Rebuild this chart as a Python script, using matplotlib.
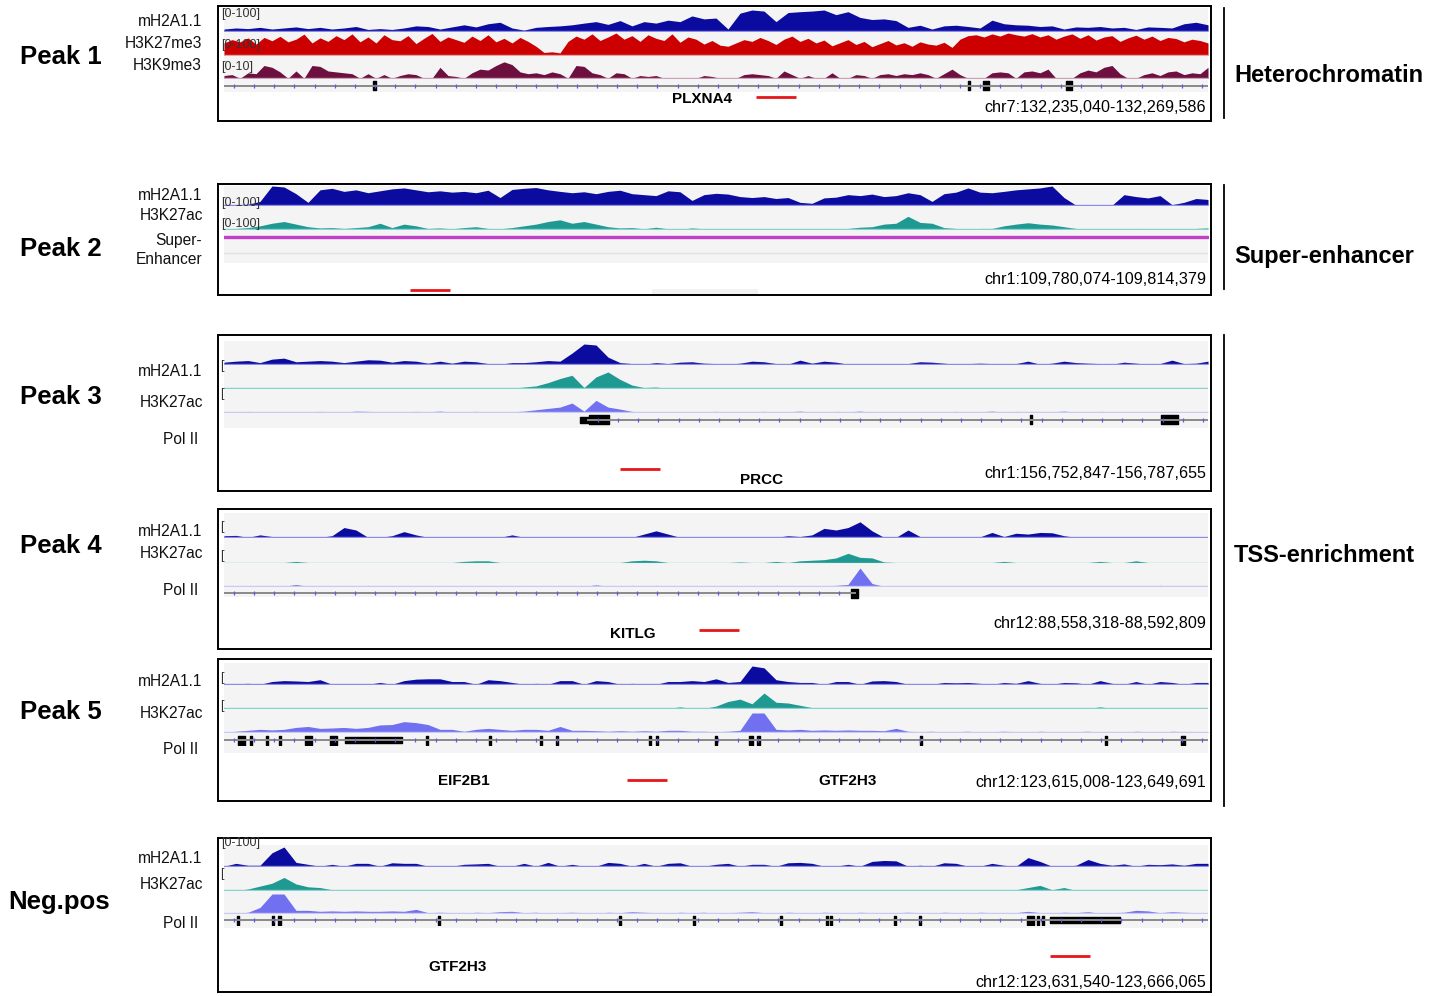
import numpy as np
import matplotlib
matplotlib.use('Agg')
import matplotlib.pyplot as plt
from matplotlib.lines import Line2D

plt.rcParams['font.family'] = ['Liberation Sans', 'DejaVu Sans']

# ---- signal values per bin (0-100 of track height)
P1_MH2A = [10,15,12,18,10,15,20,12,18,10,15,22,8,12,8,15,25,22,10,20,30,20,35,42,15,5,18,22,25,30,
           38,45,32,50,25,45,38,52,45,72,58,62,10,85,100,95,45,88,92,95,100,78,92,65,55,58,50,18,28,10,
           25,28,22,15,52,35,30,28,22,25,10,20,18,22,15,18,8,20,18,15,35,42,30]
P1_K27ME3 = [55,70,60,78,50,80, 65,85,60,72,95,55,78,62,88,70,96,60,82,55,92,70,65,88,52,76,98,62,82,70,
             58,86,66,92,60,76,55,80,62,40, 12,15,10, 62,86,72,96,66,82,100,72,88,62,92,76,66,96,58,82,72,
             50,66,45,40,55,70, 62,80,66,48,72,86,62,76,55,68, 42,56,70,48,62,38,52,66,46,56,40,60,50,45,58,35,
             72,88,92,82,96,86,100,92,86,97,82,92,72,86,96,76,92,68,82,88,62,78, 90,72,86,66,80,75,60,72,66,55]
P1_K9ME3 = [15,20,0,30,25,70,60,35,0,40,0,70,65,40,35,30,25,0,25,0,20,0,15,25,20,0,0,60,15,10,
            0,30,50,45,70,90,75,35,25,30,20,35,25,0,70,65,30,20,0,30,25,0,15,10,15,0,0,0,0,0,
            15,10,0,0,0,20,25,20,15,0,40,20,0,15,0,0,30,0,0,20,15,0,20,25,15,25,20,30,20,0,
            25,50,20,0,0,0,30,35,30,0,35,40,30,50,0,0,0,30,45,35,60,70,25,0,0,20,30,15,35,40,
            20,30,25,60]

P2_MH2A = [3,3,5,20,100,95,60,15,80,88,72,80,65,75,85,90,80,70,75,68,72,65,78,40,82,88,92,80,72,65,
           70,60,72,78,60,55,50,75,70,25,55,62,58,45,40,45,35,40,15,10,38,42,55,50,58,45,50,65,55,20,
           60,68,90,68,65,72,80,85,90,100,40,0,0,0,0,55,45,38,50,3,15,35,30]
P2_K27AC = [0,5,10,20,35,45,30,15,8,10,5,10,15,35,10,30,20,5,8,3,10,15,5,3,10,20,30,45,55,35,
            45,30,15,8,10,3,12,3,0,8,3,0,0,3,0,3,0,3,0,3,5,3,5,12,15,30,35,75,40,35,
            10,5,0,5,5,20,30,38,30,25,15,5,3,0,3,0,5,3,0,3,0,5,8]
P2_SE = [(0.0, 1.0)]

P3_MH2A = [10,15,18,8,25,30,12,15,18,15,8,15,22,20,10,18,15,5,15,5,15,12,3,0,8,8,12,18,15,55,
           100,95,35,8,3,0,8,3,10,12,5,3,0,5,15,12,3,0,20,5,15,10,0,0,0,0,0,3,12,10,
           5,0,3,5,3,0,3,15,0,5,15,8,5,3,0,10,5,0,3,20,3,5,15]
P3_K27AC = [0,0,3,0,0,0,0,0,0,5,0,0,0,0,0,0,0,0,3,0,0,0,0,0,0,8,15,35,60,80,
            5,70,100,55,20,5,8,0,0,0,0,0,0,0,5,0,0,0,5,0,0,0,5,0,0,0,0,0,0,0,
            0,0,0,0,0,0,0,0,0,0,0,0,0,5,0,0,0,0,0,0,0,0,0]
P3_POL2 = [5,3,8,3,5,3,0,5,8,5,3,10,8,5,3,5,8,5,10,3,5,8,3,0,5,10,20,30,40,70,
           10,90,40,25,8,3,0,5,3,0,5,8,3,0,5,8,3,5,10,3,0,8,5,10,3,5,0,3,5,3,
           0,8,3,5,10,3,8,5,0,5,10,3,0,8,5,3,5,3,0,5,3,0,3]

P4_MH2A = [10,12,0,15,5,0,0,0,0,10,60,45,0,0,10,35,15,0,0,0,0,0,0,0,15,0,0,0,0,0,
           0,0,0,0,0,20,40,20,0,0,0,0,0,0,0,0,0,10,5,15,55,45,60,95,40,0,0,45,5,0,
           0,0,0,3,30,5,25,20,30,28,10,0,0,0,0,0,0,0,0,0,0,0,0]
P4_K27AC = [0,0,0,0,0,0,10,0,0,0,0,0,0,0,0,0,0,0,0,0,10,15,15,0,0,0,0,0,0,0,
            0,0,0,0,15,20,15,0,0,0,0,0,0,5,0,0,10,0,15,20,25,40,80,45,40,5,0,0,0,0,
            0,0,0,0,0,10,0,0,0,0,0,0,0,10,0,0,15,0,0,0,0,0,0]
P4_POL2 = [0,0,0,0,0,0,10,0,0,0,0,0,5,0,0,0,0,0,0,0,0,0,0,0,0,0,3,0,0,0,
           0,8,0,0,5,0,5,0,0,0,0,0,0,0,0,0,5,0,0,0,3,5,10,100,15,0,0,0,0,0,
           0,3,0,3,0,0,0,0,0,0,0,0,0,0,0,0,0,0,5,0,0,0,0]

P5_MH2A = [0,3,5,0,15,20,18,15,25,0,0,0,0,10,0,20,28,30,30,15,15,0,25,20,10,0,5,0,20,20,
           0,20,15,0,5,0,0,15,15,20,15,30,10,15,100,90,25,15,10,10,0,15,15,0,18,20,15,0,0,0,
           10,8,10,5,0,10,5,20,5,0,10,8,0,20,5,0,15,0,15,10,0,10,10]
P5_K27AC = [0,0,0,0,0,0,5,0,0,0,0,0,0,0,0,0,0,0,0,0,0,0,0,0,0,0,0,0,5,0,
            0,0,0,0,0,0,0,0,10,0,0,15,45,60,30,100,40,35,20,5,0,0,0,0,0,0,0,0,0,0,
            0,0,0,0,0,0,0,0,0,0,0,0,0,10,0,0,0,0,0,0,0,0,0]
P5_POL2 = [0,5,10,15,12,15,25,30,20,22,25,20,25,38,40,55,50,40,15,15,5,15,20,15,10,15,15,10,30,10,
           10,8,5,8,5,8,5,10,10,5,5,3,5,10,100,100,15,12,15,10,12,10,12,10,10,8,20,5,3,5,
           0,3,5,0,3,5,3,0,5,3,0,3,5,0,3,0,5,3,0,5,3,0,3]

NEG_MH2A = [0,15,5,5,70,100,20,10,0,10,0,15,15,0,18,15,15,0,0,0,10,12,15,0,0,15,0,20,0,10,
            0,0,20,15,0,15,0,15,18,0,0,10,15,0,10,10,0,18,20,15,0,0,10,0,25,30,28,0,5,0,
            18,15,0,0,15,5,0,45,25,0,0,5,35,15,5,12,0,10,8,12,5,15,15]
NEG_K27AC = [0,0,10,30,50,90,45,25,20,5,0,0,0,0,0,0,0,0,0,0,0,0,0,0,0,0,0,0,0,0,
             0,5,0,0,0,0,0,0,0,0,0,0,0,0,0,0,0,0,0,0,0,0,0,0,0,0,0,0,0,0,
             0,0,0,0,0,0,5,20,35,5,20,0,0,0,0,0,0,0,0,0,0,0,0]
NEG_POL2 = [3,0,5,30,100,100,15,15,10,12,10,12,10,10,12,10,20,3,5,3,0,5,3,8,10,3,5,0,3,5,
            3,0,5,3,8,5,3,0,5,3,5,0,3,5,8,3,0,5,3,0,5,3,0,5,3,0,3,5,3,0,
            5,3,0,5,3,0,3,10,3,0,5,3,8,0,3,5,15,12,3,8,5,3,0]

# ---- gene models (fraction of the window): transcript span, exons, UTR pieces
P1_GENE = (0.0, 1.0)
P1_EXONS = [(0.1514, 0.1545), (0.7561, 0.7581), (0.7713, 0.7774), (0.8557, 0.8618)]
P3_GENE = (0.3699, 1.0)
P3_EXONS = [(0.3709, 0.3913), (0.8191, 0.8211), (0.9522, 0.9695)]
P3_UTR = [(0.3618, 0.3709)]
P4_GENE = (0.0, 0.6413)
P4_EXONS = [(0.6372, 0.6443)]
P5_GENE = (0.0, 1.0)
P5_EXONS = [(0.0142, 0.0213), (0.0264, 0.0285), (0.0427, 0.0447), (0.0559, 0.0579), (0.0823, 0.0894),
            (0.1077, 0.1148), (0.2053, 0.2073), (0.2693, 0.2713), (0.3211, 0.3232), (0.3374, 0.3394),
            (0.4319, 0.4339), (0.4390, 0.4411), (0.4990, 0.5010), (0.5335, 0.5376), (0.5417, 0.5447),
            (0.7073, 0.7093), (0.8953, 0.8974), (0.9726, 0.9766)]
P5_UTR = [(0.1230, 0.1809)]
NEG_GENE = (0.0, 1.0)
NEG_EXONS = [(0.0132, 0.0152), (0.0488, 0.0508), (0.0549, 0.0579), (0.2175, 0.2195), (0.4014, 0.4034),
             (0.4766, 0.4786), (0.5651, 0.5671), (0.6118, 0.6138), (0.6159, 0.6179), (0.6809, 0.6829),
             (0.7063, 0.7083), (0.8161, 0.8232), (0.8262, 0.8282), (0.8313, 0.8333)]
NEG_UTR = [(0.8394, 0.9106)]

# scale bar start (fraction of window), same length for all panels
SCALE_START = [0.5407, 0.1890, 0.4024, 0.4827, 0.4096, 0.8394]
SCALE_LEN = 0.0407

LOCI = ['chr7:132,235,040-132,269,586', 'chr1:109,780,074-109,814,379', 'chr1:156,752,847-156,787,655',
        'chr12:88,558,318-88,592,809', 'chr12:123,615,008-123,649,691', 'chr12:123,631,540-123,666,065']
PEAK_NAMES = ['Peak 1', 'Peak 2', 'Peak 3', 'Peak 4', 'Peak 5', 'Neg.pos']

COL = {'mh2a': ('#0b0ba0', '#8c8ce6'), 'k27me3': ('#cc0000', '#e8a0a0'), 'k9me3': ('#6d0f3f', '#c9a3b8'),
       'k27ac': ('#1f9a93', '#86d2ce'), 'pol2': ('#7070f0', '#c8c8f4')}

W, H = 1430, 996
X0, X1 = 224, 1208
fig = plt.figure(figsize=(W / 100, H / 100), dpi=100)


def rect(x0, y0, x1, y1):
    return [x0 / W, 1 - y1 / H, (x1 - x0) / W, (y1 - y0) / H]


def ftext(x, y, s, **kw):
    kw.setdefault('va', 'center')
    fig.text(x / W, 1 - y / H, s, **kw)


def background(y0, y1):
    ax = fig.add_axes(rect(X0, y0, X1, y1))
    ax.set_facecolor('#f4f4f4')
    ax.set_xticks([])
    ax.set_yticks([])
    for s in ax.spines.values():
        s.set_visible(False)
    return ax


def track(vals, key, top, base):
    ax = fig.add_axes(rect(X0, top, X1, base + 1))
    ax.set_xlim(0, 1)
    ax.set_ylim(-4, 100)
    ax.axis('off')
    x = np.linspace(0, 1, len(vals))
    ax.axhline(0, color=COL[key][1], lw=1)
    ax.fill_between(x, 0, vals, color=COL[key][0], lw=0)


def gene(span, exons, gy, utr=(), line_col='#8a8a8a'):
    ax = fig.add_axes(rect(X0, gy - 6, X1, gy + 6))
    ax.set_xlim(0, 1)
    ax.set_ylim(-1, 1)
    ax.axis('off')
    ax.plot(span, [0, 0], color=line_col, lw=1.4)
    ticks = np.arange(span[0] + 0.01, span[1] - 0.005, 0.0205)
    ax.plot(ticks, np.zeros_like(ticks), ls='none', marker='|', ms=3, mew=0.9, color='#5b5be6')
    ax.broken_barh([(s, max(e - s, 0.002)) for s, e in exons], (-0.75, 1.5), color='black')
    ax.broken_barh([(s, e - s) for s, e in utr], (-0.55, 1.1), color='black')


def box(y0, y1, i, bar_y):
    ax = fig.add_axes(rect(218, y0, 1211, y1))
    ax.set_facecolor('none')
    ax.set_xlim((218 - X0) / (X1 - X0), (1211 - X0) / (X1 - X0))
    ax.set_ylim(y1, y0)
    ax.set_xticks([])
    ax.set_yticks([])
    for s in ax.spines.values():
        s.set_linewidth(1.4)
    ax.plot([SCALE_START[i], SCALE_START[i] + SCALE_LEN], [bar_y, bar_y], color='#e8161b', lw=2,
            solid_capstyle='butt')


# ---------------- Peak 1
background(8, 92)
track(P1_MH2A, 'mh2a', 10, 31)
track(P1_K27ME3, 'k27me3', 33, 55)
track(P1_K9ME3, 'k9me3', 60, 78)
gene(P1_GENE, P1_EXONS, 86)
box(6, 121, 0, 97)

# ---------------- Peak 2
bg2 = background(186, 263)
bg2.axhline(0.13, color='#e2e2e2', lw=1)
track(P2_MH2A, 'mh2a', 186, 205)
track(P2_K27AC, 'k27ac', 212, 229)
ax_se = fig.add_axes(rect(X0, 234, X1, 240))
ax_se.set_xlim(0, 1)
ax_se.set_ylim(-1, 1)
ax_se.axis('off')
ax_se.broken_barh([(s, e - s) for s, e in P2_SE], (-0.3, 0.6), color='#c040c8')
gray_patch = fig.add_axes(rect(652, 289, 758, 295))
gray_patch.axis('off')
gray_patch.add_patch(plt.Rectangle((0, 0), 1, 1, color='#f2f2f2'))
box(184, 295, 1, 290)

# ---------------- Peak 3
background(341, 428)
track(P3_MH2A, 'mh2a', 344, 364)
track(P3_K27AC, 'k27ac', 372, 388)
track(P3_POL2, 'pol2', 399, 412)
gene(P3_GENE, P3_EXONS, 420, P3_UTR)
box(335, 491, 2, 469)

# ---------------- Peak 4
background(513, 597)
track(P4_MH2A, 'mh2a', 521, 537)
track(P4_K27AC, 'k27ac', 551, 562)
track(P4_POL2, 'pol2', 568, 586)
gene(P4_GENE, P4_EXONS, 593)
box(509, 649, 3, 630)

# ---------------- Peak 5
background(663, 753)
track(P5_MH2A, 'mh2a', 666, 684)
track(P5_K27AC, 'k27ac', 693, 708)
track(P5_POL2, 'pol2', 713, 732)
gene(P5_GENE, P5_EXONS, 740, P5_UTR)
box(659, 801, 4, 780)

# ---------------- Neg.pos
background(845, 928)
track(NEG_MH2A, 'mh2a', 847, 866)
track(NEG_K27AC, 'k27ac', 876, 890)
track(NEG_POL2, 'pol2', 894, 913)
gene(NEG_GENE, NEG_EXONS, 920, NEG_UTR)
box(838, 992, 5, 956)

# ---------------- texts
peak_y = [57, 249, 397, 546, 712, 902]
for name, y in zip(PEAK_NAMES, peak_y):
    ftext(20 if name != 'Neg.pos' else 8, y, name, fontsize=18.5, fontweight='bold')

lab = dict(fontsize=11.2, ha='right', color='#111111')
ftext(202, 21, 'mH2A1.1', **lab)
ftext(202, 43, 'H3K27me3', **lab)
ftext(202, 66, 'H3K9me3', **lab)
ftext(202, 196, 'mH2A1.1', **lab)
ftext(203, 216, 'H3K27ac', **lab)
ftext(202, 241, 'Super-', **lab)
ftext(202, 260, 'Enhancer', **lab)
for ys in [(372, 402, 439), (531, 553, 590), (681, 713, 749), (858, 884, 923)]:
    ftext(202, ys[0], 'mH2A1.1', **lab)
    ftext(203, ys[1], 'H3K27ac', **lab)
    ftext(198, ys[2], 'Pol II', **lab)

rng = dict(fontsize=9, color='#333333')
ftext(221, 14, '[0-100]', **rng)
ftext(221, 45, '[0-100]', **rng)
ftext(221, 67, '[0-10]', **rng)
ftext(221, 203, '[0-100]', **rng)
ftext(221, 224, '[0-100]', **rng)
ftext(221, 843, '[0-100]', **rng)
for y in [366, 394, 527, 556, 678, 706, 874]:
    ftext(220, y, '[', **rng)

gname = dict(fontsize=11, fontweight='bold', ha='center')
ftext(702, 99, 'PLXNA4', **gname)
ftext(762, 480, 'PRCC', **gname)
ftext(633, 634, 'KITLG', **gname)
ftext(464, 781, 'EIF2B1', **gname)
ftext(848, 781, 'GTF2H3', **gname)
ftext(458, 967, 'GTF2H3', **gname)

for locus, y in zip(LOCI, [107, 280, 474, 623, 782, 982]):
    ftext(1206, y, locus, fontsize=11.6, ha='right')

# category brackets on the right
for (y0, y1), txt, ty in [((8, 118), 'Heterochromatin', 75), ((185, 289), 'Super-enhancer', 256),
                          ((335, 806), 'TSS-enrichment', 556)]:
    fig.add_artist(Line2D([1224 / W, 1224 / W], [1 - y0 / H, 1 - y1 / H], color='black', lw=1.3))
    ftext(1234, ty, txt, fontsize=17, fontweight='bold')

fig.savefig('out.png', dpi=100)
